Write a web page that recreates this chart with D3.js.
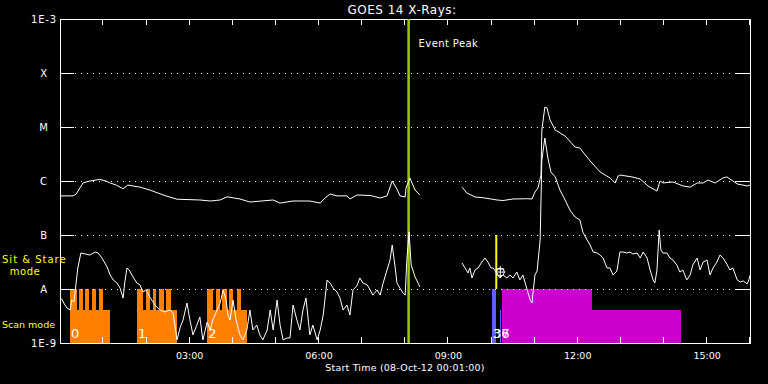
<!DOCTYPE html>
<html>
<head>
<meta charset="utf-8">
<script src="https://cdn.jsdelivr.net/npm/d3@7"></script>
<style>
  body { margin: 0; background: #000; }
  svg { display: block; }
  text { font-family: "DejaVu Sans", sans-serif; fill: #fff; }
</style>
</head>
<body>
<div id="chart"></div>
<script>
// long channel (1-8 A), hours since 00:00 on 08-Oct-12, flux W/m^2 (null = data gap)
var longHours = [0.02, 0.32, 0.39, 0.55, 0.71, 0.94, 1.08, 1.18, 1.32, 1.48, 1.59, 1.87, 2.10, 2.47, 2.73, 3.26, 3.50, 3.73, 3.89, 4.19,
  4.42, 4.96, 5.12, 5.42, 5.81, 6.05, 6.16, 6.28, 6.44, 6.67, 6.74, 6.90, 7.21, 7.44, 7.60, 7.72, 7.83, 7.90, 8.02, 8.04,
  8.13, 8.25, 8.36, 8.80, 9.34, 9.45, 9.64, 9.83, 10.15, 10.29, 10.52, 10.85, 10.96, 11.03, 11.10, 11.17, 11.19, 11.26, 11.31, 11.38,
  11.50, 11.73, 11.96, 12.07, 12.31, 12.54, 12.77, 12.89, 12.96, 13.00, 13.28, 13.47, 13.65, 13.86, 13.93, 14.00, 14.23, 14.46, 14.63, 14.79,
  14.93, 15.04, 15.21, 15.39, 15.48, 15.72, 15.95, 16.02]
var longFlux = [5.3e-7, 5.3e-7, 5.7e-7, 9.2e-7, 1.0e-6, 1.07e-6, 1.0e-6, 9.2e-7, 8.4e-7, 7.2e-7, 8.4e-7, 7.7e-7, 6.8e-7, 5.3e-7, 4.6e-7, 4.45e-7, 4.26e-7, 4.45e-7, 5.1e-7, 4.64e-7,
  4.08e-7, 4.45e-7, 3.9e-7, 4.26e-7, 4.26e-7, 3.9e-7, 4.84e-7, 5.74e-7, 5.3e-7, 5.3e-7, 4.64e-7, 5.5e-7, 5.4e-7, 4.84e-7, 5.3e-7, 1.0e-6, 7.1e-7, 5.3e-7, 5.05e-7, 7.4e-7,
  1.14e-6, 6.8e-7, 5.5e-7, null, 7.7e-7, 6.0e-7, 5.05e-7, 4.9e-7, 4.45e-7, 4.35e-7, 4.64e-7, 4.7e-7, 4.64e-7, 6.25e-7, 7.4e-7, 1.29e-6, 8.8e-6, 2.34e-5, 2.25e-5, 1.35e-5,
  8.8e-6, 6.8e-6, 4.26e-6, 4.08e-6, 2.35e-6, 1.47e-6, 1.14e-6, 9.2e-7, 1.24e-6, 1.29e-6, 1.19e-6, 1.09e-6, 8.1e-7, 6.5e-7, 1.0e-6, 9.2e-7, 9.6e-7, 8.1e-7, 7.7e-7, 9.2e-7,
  9.2e-7, 1.04e-6, 9.2e-7, 1.14e-6, 1.19e-6, 8.8e-7, 8.1e-7, 8.4e-7]

// short channel (0.5-4 A)
var shortHours = [0.02, 0.06, 0.13, 0.18, 0.25, 0.29, 0.34, 0.39, 0.43, 0.50, 0.60, 0.71, 0.83, 0.90, 0.99, 1.11, 1.18, 1.25, 1.34, 1.41,
  1.48, 1.52, 1.57, 1.62, 1.71, 1.80, 1.87, 1.94, 2.01, 2.10, 2.22, 2.33, 2.45, 2.57, 2.64, 2.73, 2.80, 2.87, 2.96, 3.03,
  3.10, 3.19, 3.26, 3.33, 3.43, 3.50, 3.56, 3.66, 3.73, 3.80, 3.87, 3.91, 3.96, 4.03, 4.10, 4.19, 4.26, 4.35, 4.42, 4.49,
  4.58, 4.65, 4.72, 4.82, 4.89, 4.96, 5.05, 5.12, 5.19, 5.28, 5.35, 5.42, 5.51, 5.58, 5.65, 5.72, 5.81, 5.88, 5.98, 6.05,
  6.12, 6.21, 6.28, 6.35, 6.44, 6.51, 6.58, 6.67, 6.74, 6.81, 6.90, 6.97, 7.04, 7.14, 7.21, 7.27, 7.37, 7.44, 7.51, 7.60,
  7.67, 7.72, 7.79, 7.83, 7.90, 7.97, 8.02, 8.06, 8.11, 8.16, 8.25, 8.32, 8.36, 8.80,
  9.34, 9.41, 9.48, 9.52, 9.57, 9.64, 9.71, 9.80, 9.87, 9.94, 10.01, 10.06, 10.13, 10.22, 10.29, 10.38, 10.45, 10.52, 10.61, 10.68,
  10.75, 10.85, 10.92, 10.96, 11.03, 11.08, 11.15, 11.19, 11.26, 11.33, 11.40, 11.50, 11.61, 11.73, 11.84, 11.96, 12.07, 12.14, 12.24, 12.31,
  12.38, 12.47, 12.54, 12.61, 12.70, 12.77, 12.84, 12.93, 13.00, 13.07, 13.16, 13.23, 13.30, 13.40, 13.47, 13.54, 13.63, 13.70, 13.77, 13.81,
  13.86, 13.91, 13.95, 14.00, 14.09, 14.16, 14.23, 14.32, 14.39, 14.46, 14.55, 14.63, 14.69, 14.79, 14.86, 14.93, 15.02, 15.09, 15.16, 15.25,
  15.32, 15.39, 15.48, 15.55, 15.62, 15.72, 15.79, 15.86, 15.95, 15.99, 16.02]
var shortFlux = [6.25e-9, 6.5e-9, 5.05e-9, 4.45e-9, 4.08e-9, 6.25e-9, 5.74e-9, 1.29e-8, 2.45e-8, 4.64e-8, 4.45e-8, 4.26e-8, 4.84e-8, 4.64e-8, 3.75e-8, 2.55e-8, 1.82e-8, 1.47e-8, 1.29e-8, 1.04e-8,
  6.8e-9, 1.35e-8, 2.45e-8, 2.25e-8, 1.67e-8, 1.29e-8, 1.19e-8, 8.8e-9, 9.6e-9, 7.1e-9, 5.05e-9, 4.08e-9, 3.75e-9, 4.08e-9, 3.59e-9, 1.14e-9, 1.9e-9, 2.67e-9, 5.5e-9, 2.67e-9,
  1.41e-9, 2.15e-9, 3.03e-9, 1.14e-9, 2.45e-9, 1.74e-9, 2.67e-9, 4.08e-9, 5.5e-9, 9.6e-9, 6.25e-9, 3.3e-9, 2.67e-9, 6.25e-9, 2.67e-9, 1.41e-9, 1.14e-9, 1.74e-9, 4.08e-9, 1.74e-9,
  2.15e-9, 1.41e-9, 1.14e-9, 1.74e-9, 4.08e-9, 1.74e-9, 6.25e-9, 2.15e-9, 1.14e-9, 1.24e-9, 1.24e-9, 5.05e-9, 2.67e-9, 1.74e-9, 4.08e-9, 6.8e-9, 1.41e-9, 2.15e-9, 1.14e-9, 1.74e-9,
  3.3e-9, 1.47e-8, 1.29e-8, 1.04e-8, 8.8e-9, 6.8e-9, 4.08e-9, 5.05e-9, 3.3e-9, 9.6e-9, 1.14e-8, 1.6e-8, 1.29e-8, 1.19e-8, 9.6e-9, 7.7e-9, 9.6e-9, 7.7e-9, 1.29e-8, 2.25e-8,
  3.44e-8, 6.53e-8, 2.45e-8, 1.29e-8, 1.04e-8, 8.4e-9, 7.7e-9, 3.44e-8, 1.14e-7, 2.78e-8, 1.67e-8, 1.29e-8, 1.09e-8, null,
  3.03e-8, 2.45e-8, 1.98e-8, 2.45e-8, 1.6e-8, 2.25e-8, 2.45e-8, 3.16e-8, 3.75e-8, 3.16e-8, 2.45e-8, 2.45e-8, 2.06e-8, 1.6e-8, 1.82e-8, 1.6e-8, 1.82e-8, 1.6e-8, 2.06e-8, 1.47e-8,
  1.82e-8, 9.6e-9, 6.25e-9, 5.5e-9, 1.82e-8, 2.15e-8, 8.08e-8, 2.45e-6, 6.25e-6, 2.67e-6, 1.47e-6, 1.19e-6, 6.8e-7, 4.45e-7, 2.9e-7, 2.15e-7, 1.9e-7, 1.14e-7, 8.08e-8, 6.53e-8,
  4.84e-8, 4.64e-8, 4.26e-8, 3.75e-8, 2.45e-8, 2.45e-8, 1.82e-8, 2.15e-8, 4.84e-8, 4.84e-8, 4.64e-8, 4.84e-8, 4.45e-8, 4.64e-8, 3.75e-8, 4.84e-8, 3.75e-8, 2.25e-8, 1.47e-8, 1.29e-8,
  2.25e-8, 1.24e-7, 5.27e-8, 4.64e-8, 4.64e-8, 3.75e-8, 3.44e-8, 2.78e-8, 2.06e-8, 2.25e-8, 1.47e-8, 1.82e-8, 2.78e-8, 3.75e-8, 2.25e-8, 3.16e-8, 3.44e-8, 1.82e-8, 2.45e-8, 3.16e-8,
  4.26e-8, 3.75e-8, 2.9e-8, 2.25e-8, 2.45e-8, 1.47e-8, 1.35e-8, 1.41e-8, 1.24e-8, 1.47e-8, 1.82e-8]

// flare classes / y tick labels
var yTickValues = [1e-9, 1e-8, 1e-7, 1e-6, 1e-5, 1e-4, 1e-3]
var yTickLabels = ["1E-9", "A", "B", "C", "M", "X", "1E-3"]
var xLabelTimes = ["03:00", "06:00", "09:00", "12:00", "15:00"]

// scan mode blocks (orange)
var scanLabels = ["0", "1", "2"]
var scanStart = ["00:15", "01:48", "03:26"]
var scanEnd = ["01:11", "02:44", "04:21"]
var scanTeeth = [
  ["00:15", "00:24"], ["00:27", "00:33"], ["00:36", "00:42"], ["00:45", "00:51"], ["00:55", "01:01"],
  ["01:48", "01:57"], ["02:01", "02:06"], ["02:10", "02:15"], ["02:19", "02:25"], ["02:29", "02:35"],
  ["03:26", "03:34"], ["03:38", "03:43"], ["03:47", "03:53"], ["03:56", "04:02"], ["04:07", "04:13"]
]
// sit & stare (magenta) and pointing (blue)
var sitStart = "10:16", sitEnd = "12:21", sitLowEnd = "14:25"
var blueBars = [["10:02", "10:07", 1e-8], ["10:13", "10:15", 4.1e-9]]
var bandTop = 1e-8, bandLow = 4.1e-9
var runLabels = ["36", "37"]
var markTime = "10:08"
var eventPeak = "08:06"

var W = 768, H = 384
var margin = { top: 19, right: 18, bottom: 41, left: 60 }
var day = new Date(2012, 9, 8)

function hrs(h) { return new Date(day.getTime() + h * 3600e3) }
function hm(s) { var p = s.split(":"); return hrs(+p[0] + p[1] / 60) }

var x = d3.scaleTime()
  .domain([hm("00:01"), hm("16:01")])
  .range([margin.left, W - margin.right])
var y = d3.scaleLog()
  .domain([1e-9, 1e-3])
  .range([H - margin.bottom, margin.top])

var svg = d3.select("#chart").append("svg")
  .attr("width", W).attr("height", H)
svg.append("rect").attr("width", W).attr("height", H).attr("fill", "#000")

var x0 = margin.left, x1 = W - margin.right, y0 = H - margin.bottom, y1 = margin.top
var bands = svg.append("g").attr("shape-rendering", "crispEdges")

// scan mode blocks
bands.selectAll(".scan").data(scanStart).enter().append("rect")
  .attr("x", function (d) { return x(hm(d)) })
  .attr("width", function (d, i) { return x(hm(scanEnd[i])) - x(hm(d)) })
  .attr("y", y(bandLow)).attr("height", y0 - y(bandLow))
  .attr("fill", "#ff8000")
bands.selectAll(".tooth").data(scanTeeth).enter().append("rect")
  .attr("x", function (d) { return x(hm(d[0])) })
  .attr("width", function (d) { return x(hm(d[1])) - x(hm(d[0])) })
  .attr("y", y(bandTop)).attr("height", y0 - y(bandTop))
  .attr("fill", "#ff8000")

// sit & stare
bands.append("rect")
  .attr("x", x(hm(sitStart))).attr("width", x(hm(sitEnd)) - x(hm(sitStart)))
  .attr("y", y(bandTop)).attr("height", y0 - y(bandTop)).attr("fill", "#cc00cc")
bands.append("rect")
  .attr("x", x(hm(sitStart))).attr("width", x(hm(sitLowEnd)) - x(hm(sitStart)))
  .attr("y", y(bandLow)).attr("height", y0 - y(bandLow)).attr("fill", "#cc00cc")
bands.selectAll(".blue").data(blueBars).enter().append("rect")
  .attr("x", function (d) { return x(hm(d[0])) })
  .attr("width", function (d) { return x(hm(d[1])) - x(hm(d[0])) })
  .attr("y", function (d) { return y(d[2]) })
  .attr("height", function (d) { return y0 - y(d[2]) })
  .attr("fill", "#6060ff")

// dotted grid
svg.selectAll(".grid").data(yTickValues.slice(1, -1)).enter().append("line")
  .attr("x1", x0 + 15).attr("x2", x1 - 14)
  .attr("y1", function (d) { return Math.round(y(d)) + 0.5 })
  .attr("y2", function (d) { return Math.round(y(d)) + 0.5 })
  .attr("stroke", "#fff").attr("stroke-dasharray", "1,5")

// frame + ticks
var g = svg.append("g").attr("shape-rendering", "crispEdges")
g.append("rect").attr("x", x0).attr("y", y1).attr("width", x1 - x0).attr("height", y0 - y1)
  .attr("fill", "none").attr("stroke", "#fff")
var hourTicks = x.ticks(d3.timeHour.every(1))
g.selectAll(".tb").data(hourTicks).enter().append("line")
  .attr("x1", function (d) { return Math.round(x(d)) + 0.5 }).attr("x2", function (d) { return Math.round(x(d)) + 0.5 })
  .attr("y1", y0).attr("y2", y0 - 6).attr("stroke", "#fff")
g.selectAll(".tt").data(hourTicks).enter().append("line")
  .attr("x1", function (d) { return Math.round(x(d)) + 0.5 }).attr("x2", function (d) { return Math.round(x(d)) + 0.5 })
  .attr("y1", y1).attr("y2", y1 + 6).attr("stroke", "#fff")
g.selectAll(".tl").data(yTickValues).enter().append("line")
  .attr("x1", x0).attr("x2", x0 + 14)
  .attr("y1", function (d) { return Math.round(y(d)) + 0.5 }).attr("y2", function (d) { return Math.round(y(d)) + 0.5 })
  .attr("stroke", "#fff")
g.selectAll(".tr").data(yTickValues).enter().append("line")
  .attr("x1", x1 - 14).attr("x2", x1)
  .attr("y1", function (d) { return Math.round(y(d)) + 0.5 }).attr("y2", function (d) { return Math.round(y(d)) + 0.5 })
  .attr("stroke", "#fff")

// event peak line
svg.append("line")
  .attr("x1", x(hm(eventPeak))).attr("x2", x(hm(eventPeak)))
  .attr("y1", y1).attr("y2", y0)
  .attr("stroke", "#99cc00").attr("stroke-width", 2.5)
svg.append("text").attr("x", x(hm(eventPeak)) + 10).attr("y", 47)
  .attr("font-size", 10).attr("letter-spacing", 0.4).text("Event Peak")

// yellow marker
svg.append("line")
  .attr("x1", x(hm(markTime))).attr("x2", x(hm(markTime)))
  .attr("y1", y(1e-7)).attr("y2", y(1e-8))
  .attr("stroke", "#ffff00").attr("stroke-width", 2)

// flux lines
function series(hs, fs) {
  return hs.map(function (h, i) { return { t: hrs(h), f: fs[i] } })
}
var line = d3.line()
  .defined(function (d) { return d.f != null })
  .x(function (d) { return x(d.t) })
  .y(function (d) { return y(d.f) })
svg.append("path").datum(series(shortHours, shortFlux))
  .attr("d", line).attr("fill", "none").attr("stroke", "#fff").attr("stroke-width", 1)
svg.append("path").datum(series(longHours, longFlux))
  .attr("d", line).attr("fill", "none").attr("stroke", "#fff").attr("stroke-width", 1)

// little marker glyph on the short channel
var mx = x(hm(markTime)) + 4, my = y(2.06e-8)
svg.append("circle").attr("cx", mx).attr("cy", my).attr("r", 4)
  .attr("fill", "none").attr("stroke", "#fff")
svg.append("path").attr("d", "M" + (mx - 5) + "," + my + "h10M" + mx + "," + (my - 6) + "v12M" + (mx - 4) + "," + (my - 3) + "h8")
  .attr("stroke", "#fff").attr("fill", "none")

// block numbers
svg.selectAll(".snum").data(scanLabels).enter().append("text")
  .attr("x", function (d, i) { return x(hm(scanStart[i])) + 1 })
  .attr("y", 338).attr("font-size", 13).text(function (d) { return d })
svg.selectAll(".rnum").data(runLabels).enter().append("text")
  .attr("x", x(hm(blueBars[0][0])) + 1)
  .attr("y", 338).attr("font-size", 13).text(function (d) { return d })

// labels
svg.selectAll(".ylab").data(yTickLabels).enter().append("text")
  .attr("x", 44).attr("y", function (d, i) { return y(yTickValues[i]) + 4 })
  .attr("text-anchor", "middle").attr("font-size", 10).attr("letter-spacing", 0.8)
  .text(function (d) { return d })
svg.selectAll(".xlab").data(xLabelTimes).enter().append("text")
  .attr("x", function (d) { return x(hm(d)) + 1 }).attr("y", 359)
  .attr("text-anchor", "middle").attr("font-size", 9.5).text(function (d) { return d })
svg.append("text").attr("x", (x0 + x1) / 2).attr("y", 371)
  .attr("text-anchor", "middle").attr("font-size", 9.5).attr("letter-spacing", 0.2)
  .text("Start Time (08-Oct-12 00:01:00)")
svg.append("text").attr("x", (x0 + x1) / 2 - 3).attr("y", 14)
  .attr("text-anchor", "middle").attr("font-size", 12).attr("letter-spacing", 0.5)
  .text("GOES 14 X-Rays:")

svg.append("text").attr("x", 2).attr("y", 263).attr("font-size", 10).attr("letter-spacing", 1)
  .style("fill", "#ffff00").text("Sit & Stare")
svg.append("text").attr("x", 25).attr("y", 275).attr("font-size", 10).attr("text-anchor", "middle")
  .attr("letter-spacing", 0.5).style("fill", "#ffff00").text("mode")
svg.append("text").attr("x", 2).attr("y", 328).attr("font-size", 9.5)
  .style("fill", "#ffff00").text("Scan mode")
</script>
</body>
</html>
